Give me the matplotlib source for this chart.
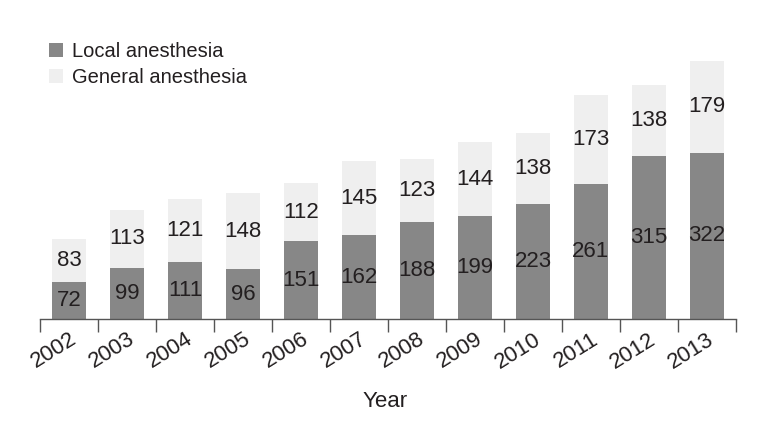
import matplotlib
matplotlib.use("Agg")
import matplotlib.pyplot as plt
import numpy as np
from matplotlib.patches import Patch

plt.rcParams['font.family'] = ['Liberation Sans', 'DejaVu Sans']
NARROW = ['Liberation Sans Narrow', 'Liberation Sans', 'DejaVu Sans']

years = ['2002', '2003', '2004', '2005', '2006', '2007', '2008', '2009', '2010', '2011', '2012', '2013']
local = [72, 99, 111, 96, 151, 162, 188, 199, 223, 261, 315, 322]
general = [83, 113, 121, 148, 112, 145, 123, 144, 138, 173, 138, 179]

c_local = '#878787'
c_general = '#efefef'
txt = '#231f20'

fig = plt.figure(figsize=(7.61, 4.23), dpi=100)
ax = fig.add_axes([0.0526, 0.246, 0.9145, 0.634])

x = np.arange(len(years))
w = 0.59
ax.bar(x, local, width=w, color=c_local, edgecolor='none')
ax.bar(x, general, width=w, bottom=local, color=c_general, edgecolor='none')

for xi, l, g in zip(x, local, general):
    ax.text(xi, l / 2, str(l), ha='center', va='center', fontsize=16, color=txt, family=NARROW)
    ax.text(xi, l + g / 2, str(g), ha='center', va='center', fontsize=16, color=txt, family=NARROW)

ax.set_xlim(-0.5, len(years) - 0.5)
ax.set_ylim(0, 520)
for s in ['left', 'right', 'top']:
    ax.spines[s].set_visible(False)
ax.spines['bottom'].set_color('#555555')
ax.spines['bottom'].set_linewidth(1.0)
ax.set_yticks([])

ax.set_xticks(x)
ax.set_xticklabels(years, rotation=32, ha='right', va='top', rotation_mode='anchor',
                   fontsize=16, color=txt, family=NARROW)
ax.tick_params(axis='x', which='major', length=0, pad=7)
ax.set_xticks(np.arange(-0.5, len(years), 1.0), minor=True)
ax.tick_params(axis='x', which='minor', length=9, width=1.0, color='#555555', direction='out')

fig.text(0.506, 0.052, 'Year', ha='center', va='center', fontsize=16, color=txt, family=NARROW)

handles = [Patch(facecolor=c_local, edgecolor='none'), Patch(facecolor=c_general, edgecolor='none')]
fig.legend(handles, ['Local anesthesia', 'General anesthesia'], loc='upper left',
           bbox_to_anchor=(0.0644, 0.9), frameon=False, fontsize=14.5,
           handlelength=0.7, handleheight=0.7, handletextpad=0.45, labelspacing=0.35,
           borderpad=0, borderaxespad=0, labelcolor=txt)

fig.savefig('out.png', dpi=100)
